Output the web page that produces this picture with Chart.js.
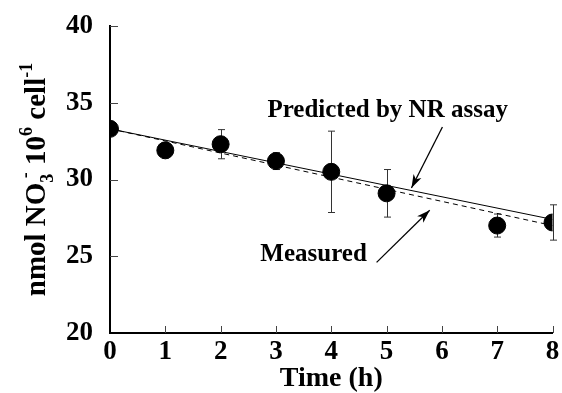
<!DOCTYPE html>
<html>
<head>
<meta charset="utf-8">
<script src="https://cdn.jsdelivr.net/npm/chart.js@4/dist/chart.umd.min.js"></script>
<style>
  html, body { margin: 0; padding: 0; background: #fff; }
  #wrap { width: 562px; height: 393px; }
</style>
</head>
<body>
<div id="wrap"><canvas id="nitrateChart" width="562" height="393"></canvas></div>
<script>
// measured nitrate per cell over time
var timeH = [0, 1, 2, 3, 4, 5, 7, 8];
var meanNO3 = [33.3, 31.9, 32.3, 31.2, 30.5, 29.1, 27.0, 27.2];
var errNO3 = [0, 0.5, 0.95, 0.55, 2.65, 1.55, 0.75, 1.15];

// fitted lines (start / end at t = 0 and t = 8)
var lineX = [0, 8];
var predictedLine = [33.3, 27.4];
var measuredLine = [33.3, 27.0];

var yTicks = [20, 25, 30, 35, 40];
var xTicks = [0, 1, 2, 3, 4, 5, 6, 7, 8];

var SERIF = "'Liberation Serif', 'Times New Roman', serif";

function pts(xs, ys) {
  return xs.map(function(x, i) { return { x: x, y: ys[i] }; });
}

// error bars under the points
var errorBars = {
  id: 'errorBars',
  beforeDatasetsDraw: function(chart) {
    var ctx = chart.ctx, xs = chart.scales.x, ys = chart.scales.y;
    ctx.save();
    ctx.strokeStyle = '#333';
    ctx.lineWidth = 1;
    timeH.forEach(function(t, i) {
      if (!errNO3[i]) return;
      var px = Math.round(xs.getPixelForValue(t)) + 0.5;
      var top = ys.getPixelForValue(meanNO3[i] + errNO3[i]);
      var bot = ys.getPixelForValue(meanNO3[i] - errNO3[i]);
      ctx.beginPath();
      ctx.moveTo(px, top); ctx.lineTo(px, bot);
      ctx.moveTo(px - 3.5, top); ctx.lineTo(px + 3.5, top);
      ctx.moveTo(px - 3.5, bot); ctx.lineTo(px + 3.5, bot);
      ctx.stroke();
    });
    ctx.restore();
  }
};

// inward tick marks, y title with sub/superscripts, annotations
var extras = {
  id: 'extras',
  afterDraw: function(chart) {
    var ctx = chart.ctx, xs = chart.scales.x, ys = chart.scales.y;
    var area = chart.chartArea;
    ctx.save();
    ctx.strokeStyle = '#444';
    ctx.lineWidth = 1;
    yTicks.forEach(function(v) {
      if (v === 20) return;
      var py = Math.round(ys.getPixelForValue(v)) + 0.5;
      ctx.beginPath();
      ctx.moveTo(area.left, py); ctx.lineTo(area.left + 8, py);
      ctx.stroke();
    });
    xTicks.forEach(function(v) {
      if (v === 0) return;
      var px = Math.round(xs.getPixelForValue(v)) + 0.5;
      ctx.beginPath();
      ctx.moveTo(px, area.bottom); ctx.lineTo(px, area.bottom - 7);
      ctx.stroke();
    });

    // y axis title, rotated
    ctx.translate(45, (area.top + area.bottom) / 2);
    ctx.rotate(-Math.PI / 2);
    ctx.fillStyle = '#000';
    ctx.textBaseline = 'alphabetic';
    var big = 'bold 29px ' + SERIF, small = 'bold 18px ' + SERIF;
    var parts = [
      { t: 'nmol NO', f: big, dy: 0 },
      { t: '3', f: small, dy: 8, stack: true },
      { t: ' -', f: small, dy: -14 },
      { t: ' 10', f: big, dy: 0 },
      { t: '6', f: small, dy: -13 },
      { t: ' cell', f: big, dy: 0 },
      { t: '-1', f: small, dy: -13 }
    ];
    var total = 0;
    parts.forEach(function(p) {
      ctx.font = p.f;
      p.w = ctx.measureText(p.t).width;
      if (!p.stack) total += p.w;
    });
    var cx = -total / 2;
    parts.forEach(function(p) {
      ctx.font = p.f;
      ctx.fillText(p.t, cx, p.dy);
      if (!p.stack) cx += p.w;
    });
    ctx.restore();

    // annotations
    ctx.save();
    ctx.fillStyle = '#000';
    ctx.font = 'bold 25px ' + SERIF;
    ctx.textAlign = 'center';
    ctx.textBaseline = 'middle';
    annotations.forEach(function(a) {
      ctx.fillText(a.label, xs.getPixelForValue(a.tx), ys.getPixelForValue(a.ty));
      var x0 = xs.getPixelForValue(a.from[0]), y0 = ys.getPixelForValue(a.from[1]);
      var x1 = xs.getPixelForValue(a.to[0]), y1 = ys.getPixelForValue(a.to[1]);
      ctx.strokeStyle = '#000';
      ctx.lineWidth = 1.3;
      ctx.beginPath(); ctx.moveTo(x0, y0); ctx.lineTo(x1, y1); ctx.stroke();
      var ang = Math.atan2(y1 - y0, x1 - x0), L = 14, W = 0.32;
      ctx.beginPath();
      ctx.moveTo(x1, y1);
      ctx.lineTo(x1 - L * Math.cos(ang - W), y1 - L * Math.sin(ang - W));
      ctx.lineTo(x1 - L * 0.7 * Math.cos(ang), y1 - L * 0.7 * Math.sin(ang));
      ctx.lineTo(x1 - L * Math.cos(ang + W), y1 - L * Math.sin(ang + W));
      ctx.closePath();
      ctx.fill();
    });
    ctx.restore();
  }
};

var annotations = [
  { label: 'Predicted by NR assay', tx: 5.02, ty: 34.46, from: [6.01, 33.42], to: [5.45, 29.45] },
  { label: 'Measured', tx: 3.68, ty: 25.1, from: [4.82, 24.6], to: [5.78, 28.0] }
];

var ctx = document.getElementById('nitrateChart').getContext('2d');
var nitrateChart = new Chart(ctx, {
  type: 'scatter',
  data: {
    datasets: [
      {
        label: 'Predicted by NR assay',
        data: pts(lineX, predictedLine),
        showLine: true,
        borderColor: '#000',
        borderWidth: 1,
        pointRadius: 0
      },
      {
        label: 'Measured fit',
        data: pts(lineX, measuredLine),
        showLine: true,
        borderColor: '#000',
        borderWidth: 1,
        borderDash: [5, 4],
        pointRadius: 0
      },
      {
        label: 'Measured',
        data: pts(timeH, meanNO3),
        backgroundColor: '#000',
        borderColor: '#000',
        pointRadius: 8.5,
        pointHoverRadius: 8.5
      }
    ]
  },
  options: {
    responsive: false,
    animation: false,
    layout: { padding: { left: 0, right: 9, top: 26, bottom: 0 } },
    plugins: {
      legend: { display: false },
      tooltip: { enabled: false }
    },
    scales: {
      x: {
        type: 'linear',
        min: 0,
        max: 8,
        afterBuildTicks: function(scale) { scale.ticks = xTicks.map(function(v) { return { value: v }; }); },
        grid: { display: false, tickLength: 0 },
        border: { display: true, color: '#000', width: 2 },
        ticks: { color: '#000', padding: 3, font: { family: SERIF, size: 27, weight: 'bold' } },
        title: {
          display: true,
          text: 'Time (h)',
          color: '#000',
          padding: { top: 0, bottom: -3 },
          font: { family: SERIF, size: 28, weight: 'bold' }
        },
        afterFit: function(scale) {
          scale.height = 60;
          scale.paddingLeft = 0;
          scale.paddingRight = 0;
        }
      },
      y: {
        min: 20,
        max: 40,
        afterBuildTicks: function(scale) { scale.ticks = yTicks.map(function(v) { return { value: v }; }); },
        grid: { display: false, tickLength: 0 },
        border: { display: true, color: '#000', width: 2 },
        ticks: { color: '#000', padding: 17, font: { family: SERIF, size: 27, weight: 'bold' } },
        afterFit: function(scale) {
          scale.width = 110;
          scale.paddingTop = 0;
          scale.paddingBottom = 0;
        }
      }
    }
  },
  plugins: [errorBars, extras]
});
</script>
</body>
</html>
